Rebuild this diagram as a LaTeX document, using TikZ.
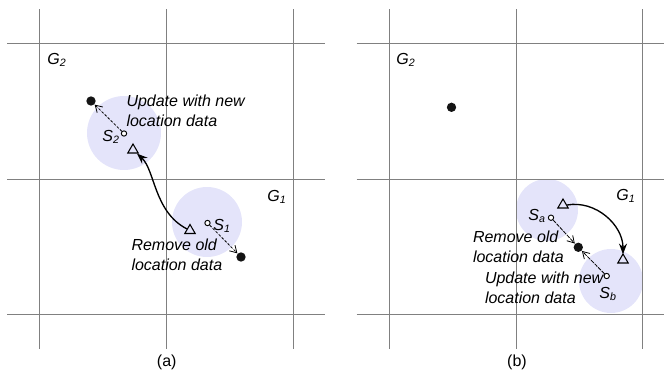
\documentclass[tikz,border=0pt]{standalone}
\usepackage{fontspec}
\setmainfont{Liberation Sans}
\usetikzlibrary{arrows.meta,shapes.geometric}

\tikzset{every picture/.style={line width=0.75pt}}
\tikzset{
  gridline/.style={color={rgb, 255:red, 128; green, 128; blue, 128 }, line width=1pt},
  halo/.style={fill={rgb, 255:red, 228; green, 228; blue, 250 }},
  sensor/.style={circle, draw, fill=white, line width=0.7pt, inner sep=0pt, minimum size=4pt},
  datadot/.style={circle, fill={rgb, 255:red, 20; green, 20; blue, 20 }, inner sep=0pt, minimum size=7pt},
  tri/.style={regular polygon, regular polygon sides=3, draw, line width=0.8pt, inner sep=0pt, minimum size=9pt},
  lbl/.style={inner sep=0.75pt, font=\itshape\fontsize{12}{15}\selectfont},
  note/.style={inner sep=0.75pt, align=left, font=\itshape\fontsize{12}{15}\selectfont},
  move/.style={dashed, dash pattern=on 2pt off 1.2pt, line width=0.6pt, -{Straight Barb[length=5pt,width=6pt]}},
  hop/.style={line width=1pt, -{Stealth[length=8pt,width=6pt]}}
}

\begin{document}
\begin{tikzpicture}[x=0.75pt,y=0.75pt,yscale=-1,xscale=1]
\useasboundingbox (0,0) rectangle (664,374);

%Shape: Circle
\fill[halo] (124,133) circle [radius=27.75pt];
\fill[halo] (207,222) circle [radius=26.25pt];
\fill[halo] (547,210) circle [radius=23.25pt];
\fill[halo] (611,281) circle [radius=24pt];

%Straight Lines (a)
\draw[gridline] (39.5,9.3) -- (39.5,349);
\draw[gridline] (166.5,9.3) -- (166.5,349);
\draw[gridline] (293.5,9.3) -- (293.5,349);
\draw[gridline] (7.3,43.5) -- (325.3,43.5);
\draw[gridline] (7.3,179.5) -- (325.3,179.5);
\draw[gridline] (7.3,314.5) -- (325.3,314.5);
%Straight Lines (b)
\draw[gridline] (389.5,9.3) -- (389.5,349);
\draw[gridline] (516.5,9.3) -- (516.5,349);
\draw[gridline] (642.5,9.3) -- (642.5,349);
\draw[gridline] (356.7,43.5) -- (664,43.5);
\draw[gridline] (356.7,179.5) -- (664,179.5);
\draw[gridline] (356.7,314.5) -- (664,314.5);

% Nodes (a)
\node[datadot] (d2) at (91,101) {};
\node[datadot] (d1) at (241,257) {};
\node[sensor] (s2) at (124,133.5) {};
\node[sensor] (s1) at (207.5,223) {};
\node[tri] (t2) at (133,150) {};
\node[tri] (t1) at (190,230.5) {};
% Nodes (b)
\node[datadot] (e2) at (451.5,107.3) {};
\node[datadot] (e1) at (578.3,247.3) {};
\node[sensor] (sa) at (551,217.7) {};
\node[sensor] (sb) at (606.7,276) {};
\node[tri] (ta) at (563,205) {};
\node[tri] (tb) at (623,260) {};

% Connectors (a)
\draw[move] (s2) -- (d2);
\draw[move] (s1) -- (d1);
\draw[hop] (t1) .. controls (154,212) and (155,170) .. (t2);
% Connectors (b)
\draw[hop] (ta.east) to[out=-10,in=-90] ([yshift=1pt]tb.north);
\draw[move, dash pattern=on 3pt off 0.8pt] (sa) -- (e1);
\draw[move, dash pattern=on 3pt off 0.8pt] (sb) -- (e1);

% Text Node (a)
\node[lbl] (g2a) at (57,60) {G\textsubscript{2}};
\node[lbl] (g1a) at (277,197) {G\textsubscript{1}};
\node[lbl] (l2) at (111,137) {S\textsubscript{2}};
\node[lbl] (l1) at (222,226) {S\textsubscript{1}};
\node[note, anchor=west] (upa) at (125,111) {Update with new\\location data};
\node[note, anchor=west] (rma) at (130,254.5) {Remove old\\location data};
\node[inner sep=0.75pt, font=\fontsize{12}{15}\selectfont] (capa) at (166.7,362) {(a)};
% Text Node (b)
\node[lbl] (g2b) at (406,60) {G\textsubscript{2}};
\node[lbl] (g1b) at (626,196) {G\textsubscript{1}};
\node[lbl] (la) at (537,216) {S\textsubscript{a}};
\node[lbl] (lb) at (608,294) {S\textsubscript{b}};
\node[note, anchor=west] (rmb) at (471.5,246.7) {Remove old\\location data};
\node[note, anchor=west] (upb) at (483.5,288.2) {Update with new\\location data};
\node[inner sep=0.75pt, font=\fontsize{12}{15}\selectfont] (capb) at (517,362) {(b)};

\end{tikzpicture}
\end{document}
